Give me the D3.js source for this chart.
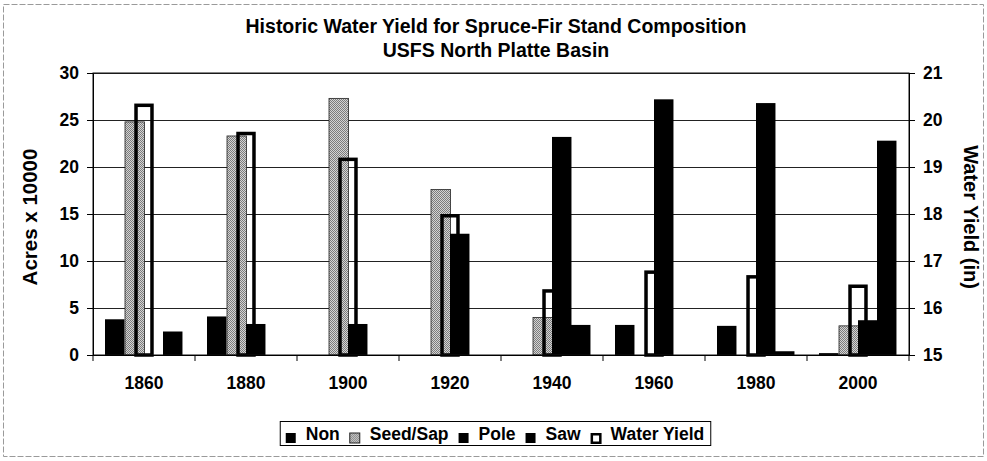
<!DOCTYPE html>
<html>
<head>
<meta charset="utf-8">
<script src="https://cdn.jsdelivr.net/npm/d3@7"></script>
<style>
  body { margin: 0; background: #fff; }
  svg  { display: block; font-family: "Liberation Sans", Arial, sans-serif; }
</style>
</head>
<body>
<div id="chart"></div>
<script>
// values
const years      = ['1860','1880','1900','1920','1940','1960','1980','2000'];
const seriesNames = ['Non','Seed/Sap','Pole','Saw'];
const non        = [3.8, 4.1, 0, 0, 0, 3.2, 3.1, 0.2];
const seedSap    = [24.8, 23.3, 27.3, 17.6, 4.0, 0, 0, 3.1];
const pole       = [0, 3.3, 3.3, 12.9, 23.2, 27.2, 26.8, 3.7];
const saw        = [2.5, 0, 0, 0, 3.2, 0, 0.4, 22.8];
const waterYield = [20.35, 19.75, 19.2, 18.0, 16.4, 16.8, 16.7, 16.5];
const leftTicks  = [0, 5, 10, 15, 20, 25, 30];
const rightTicks = [15, 16, 17, 18, 19, 20, 21];

const W = 987, H = 461;
const plot = {left: 93, right: 909, top: 73, bottom: 355};

const svg = d3.select('#chart').append('svg')
  .attr('width', W).attr('height', H);

// dithered gray like the scan
const pat = svg.append('defs').append('pattern')
  .attr('id', 'dither').attr('width', 2).attr('height', 2)
  .attr('patternUnits', 'userSpaceOnUse');
pat.append('rect').attr('width', 2).attr('height', 2).attr('fill', '#d4d4d4');
pat.append('rect').attr('width', 1).attr('height', 1).attr('fill', '#7c7c7c');
pat.append('rect').attr('x', 1).attr('y', 1).attr('width', 1).attr('height', 1).attr('fill', '#7c7c7c');

const fill = {'Non': '#000', 'Seed/Sap': 'url(#dither)', 'Pole': '#000', 'Saw': '#000'};
const values = {'Non': non, 'Seed/Sap': seedSap, 'Pole': pole, 'Saw': saw};

// outer frame
svg.append('rect')
  .attr('x', 3.5).attr('y', 4.5).attr('width', W - 7).attr('height', H - 9)
  .attr('fill', 'none').attr('stroke', '#9a9a9a').attr('stroke-dasharray', '6,2');

const x  = d3.scaleBand().domain(years).range([plot.left, plot.right]);
const xs = d3.scaleBand().domain(seriesNames).range([0, x.bandwidth()]).paddingOuter(0.62);
const yL = d3.scaleLinear().domain([0, 30]).range([plot.bottom, plot.top]);
const yR = d3.scaleLinear().domain([15, 21]).range([plot.bottom, plot.top]);

// gridlines
svg.append('g')
  .attr('transform', `translate(${plot.left},0)`)
  .call(d3.axisLeft(yL).tickValues(leftTicks).tickSize(-(plot.right - plot.left)).tickFormat(''))
  .call(g => g.select('.domain').remove())
  .call(g => g.selectAll('line').attr('stroke', '#222'));

// clustered bars
seriesNames.forEach(s => {
  svg.append('g').selectAll('rect')
    .data(years.map((yr, i) => ({yr, v: values[s][i]})).filter(d => d.v > 0))
    .enter().append('rect')
      .attr('x', d => Math.round(x(d.yr) + xs(s)))
      .attr('y', d => yL(d.v))
      .attr('width', xs.bandwidth())
      .attr('height', d => yL(0) - yL(d.v))
      .attr('fill', fill[s])
      .attr('stroke', s === 'Seed/Sap' ? '#222' : 'none')
      .attr('stroke-width', 0.8);
});

// water yield, secondary axis, outline bars centred on each year
const sw = 3.5;
svg.append('g').selectAll('rect')
  .data(years.map((yr, i) => ({yr, v: waterYield[i]})))
  .enter().append('rect')
    .attr('x', d => x(d.yr) + x.bandwidth() / 2 - xs.bandwidth() / 2 + sw / 2)
    .attr('y', d => yR(d.v) + sw / 2)
    .attr('width', xs.bandwidth() - sw)
    .attr('height', d => yR(15) - yR(d.v) - sw / 2)
    .attr('fill', 'none')
    .attr('stroke', '#000')
    .attr('stroke-width', sw);

// plot frame
svg.append('rect')
  .attr('x', plot.left).attr('y', plot.top)
  .attr('width', plot.right - plot.left).attr('height', plot.bottom - plot.top)
  .attr('fill', 'none').attr('stroke', '#111');

const styleAxis = g => {
  g.selectAll('text').attr('font-size', 17.5).attr('font-weight', 'bold')
    .attr('font-family', '"Liberation Sans", Arial, sans-serif').attr('fill', '#000');
  g.selectAll('line,path').attr('stroke', '#000');
};

svg.append('g')
  .attr('transform', `translate(${plot.left},0)`)
  .call(d3.axisLeft(yL).tickValues(leftTicks).tickSize(6).tickSizeOuter(0).tickPadding(8))
  .call(styleAxis);

svg.append('g')
  .attr('transform', `translate(${plot.right},0)`)
  .call(d3.axisRight(yR).tickValues(rightTicks).tickFormat(d3.format('d'))
    .tickSize(6).tickSizeOuter(0).tickPadding(8))
  .call(styleAxis);

const xAxis = svg.append('g')
  .attr('transform', `translate(0,${plot.bottom})`)
  .call(d3.axisBottom(x).tickSize(0).tickPadding(22))
  .call(styleAxis);

// category boundary ticks
xAxis.selectAll('.bound')
  .data(years.map(y => x(y)).concat([plot.right]))
  .enter().append('line')
    .attr('class', 'bound')
    .attr('x1', d => d).attr('x2', d => d)
    .attr('y1', 0).attr('y2', 6)
    .attr('stroke', '#000');

// titles
const title = svg.append('g')
  .attr('font-weight', 'bold').attr('font-size', 19.5).attr('text-anchor', 'middle');
title.append('text').attr('x', 496).attr('y', 33).text('Historic Water Yield for Spruce-Fir Stand Composition');
title.append('text').attr('x', 496).attr('y', 57).text('USFS North Platte Basin');

svg.append('text')
  .attr('transform', 'translate(30,217) rotate(-90)')
  .attr('text-anchor', 'middle').attr('dy', '0.35em')
  .attr('font-weight', 'bold').attr('font-size', 20.5)
  .text('Acres x 10000');

svg.append('text')
  .attr('transform', 'translate(971,217) rotate(90)')
  .attr('text-anchor', 'middle').attr('dy', '0.35em')
  .attr('font-weight', 'bold').attr('font-size', 20)
  .text('Water Yield (in)');

// legend
const legendItems = seriesNames.concat(['Water Yield']);
const legend = svg.append('g').attr('font-size', 17.5).attr('font-weight', 'bold');
const box = legend.append('rect')
  .attr('y', 421.5).attr('height', 24)
  .attr('fill', '#fff').attr('stroke', '#000');
let lx = 6;
const items = legend.append('g');
legendItems.forEach(name => {
  const it = items.append('g').attr('transform', `translate(${lx},0)`);
  if (name === 'Water Yield') {
    it.append('rect').attr('x', 1.25).attr('y', 434.25).attr('width', 8.5).attr('height', 8.5)
      .attr('fill', '#fff').attr('stroke', '#000').attr('stroke-width', 2.5);
  } else {
    it.append('rect').attr('y', 433).attr('width', 10).attr('height', 10)
      .attr('fill', fill[name]).attr('stroke', name === 'Seed/Sap' ? '#222' : 'none');
  }
  const t = it.append('text').attr('x', 20).attr('y', 440).text(name);
  lx += 20 + t.node().getComputedTextLength() + 10;
});
const legendW = lx - 10 + 6;
const lx0 = 495 - legendW / 2;
items.attr('transform', `translate(${lx0},0)`);
box.attr('x', lx0 + 0.5).attr('width', legendW);
</script>
</body>
</html>
